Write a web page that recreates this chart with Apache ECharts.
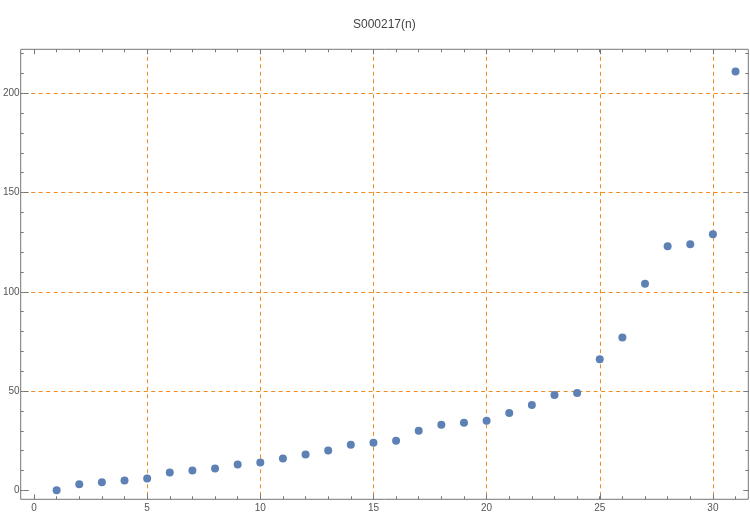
<!DOCTYPE html>
<html>
<head>
<meta charset="utf-8">
<script src="https://cdn.jsdelivr.net/npm/echarts@6/dist/echarts.min.js"></script>
<style>html,body{margin:0;padding:0;background:#fff}#c{width:750px;height:517px}</style>
</head>
<body>
<div id="c"></div>
<script>
var titleText = 'S000217(n)';
var nValues = [1,2,3,4,5,6,7,8,9,10,11,12,13,14,15,16,17,18,19,20,21,22,23,24,25,26,27,28,29,30,31];
var sValues = [0,3,4,5,6,9,10,11,13,14,16,18,20,23,24,25,30,33,34,35,39,43,48,49,66,77,104,123,124,129,211];
var xTickStep = 5, xMinorStep = 1, yTickStep = 50, yMinorStep = 10;

// layout (pixels)
var frameL = 20.7, frameR = 748.3, frameT = 49.3, frameB = 499.3;
var x0px = 34, pxX = 22.63;      // pixel of x=0, px per unit
var y0px = 490.3, pxY = 1.985;   // pixel of y=0, px per unit
var xMin = (frameL - x0px) / pxX, xMax = (frameR - x0px) / pxX;
var yMin = (y0px - frameB) / pxY, yMax = (y0px - frameT) / pxY;

var orange = '#f28a1e', frameColor = '#777', textColor = '#555';
var font = 'Liberation Sans, Arial, sans-serif';
var dash = {type: [4, 3.5], color: orange, width: 1};

var data = nValues.map(function (n, i) { return [n, sValues[i]]; });

var grids = [
  {left: frameL, top: frameT, width: frameR - frameL, height: frameB - frameT, show: true, borderColor: frameColor, borderWidth: 1, z: 0},
  {left: x0px, top: frameT, width: 30 * pxX, height: frameB - frameT},
  {left: x0px, top: frameT, width: 31 * pxX, height: frameB - frameT},
  {left: frameL, top: y0px - 200 * pxY, width: frameR - frameL, height: 200 * pxY},
  {left: frameL, top: y0px - 220 * pxY, width: frameR - frameL, height: 220 * pxY}
];
function hidden(gi, pos) { return {type: 'value', gridIndex: gi, show: false, min: 0, max: 1, position: pos}; }
function ticks(gi, pos, max, step, len, labels, split) {
  return {
    type: 'value', gridIndex: gi, position: pos, min: 0, max: max, interval: step,
    axisLine: {show: false},
    axisTick: {show: true, inside: true, length: len, lineStyle: {color: frameColor}},
    axisLabel: {show: labels, color: textColor, fontSize: 10, fontFamily: font, margin: 4},
    splitLine: {show: split, showMinLine: false, showMaxLine: true, lineStyle: dash}
  };
}
var xAxes = [
  {type: 'value', gridIndex: 0, min: xMin, max: xMax, show: false},
  ticks(1, 'bottom', 30, xTickStep, 5, true, true),
  ticks(1, 'top', 30, xTickStep, 5, false, false),
  ticks(2, 'bottom', 31, xMinorStep, 3, false, false),
  ticks(2, 'top', 31, xMinorStep, 3, false, false),
  hidden(3, 'bottom'),
  hidden(4, 'bottom')
];
var yAxes = [
  {type: 'value', gridIndex: 0, min: yMin, max: yMax, show: false},
  hidden(1, 'left'),
  hidden(2, 'left'),
  ticks(3, 'left', 200, yTickStep, 5, true, true),
  ticks(3, 'right', 200, yTickStep, 5, false, false),
  ticks(4, 'left', 220, yMinorStep, 3, false, false),
  ticks(4, 'right', 220, yMinorStep, 3, false, false)
];

var chart = echarts.init(document.getElementById('c'), null, {renderer: 'canvas'});
chart.setOption({
  animation: false,
  backgroundColor: '#fff',
  title: {text: titleText, left: 348, top: 14, padding: 5,
    textStyle: {color: '#444', fontSize: 12, fontWeight: 'normal', fontFamily: font}},
  grid: grids,
  xAxis: xAxes,
  yAxis: yAxes,
  series: [{
    type: 'scatter', xAxisIndex: 0, yAxisIndex: 0, data: data,
    symbol: 'circle', symbolSize: 8, itemStyle: {color: '#5e81b5', opacity: 1}, z: 10
  }]
});
</script>
</body>
</html>
